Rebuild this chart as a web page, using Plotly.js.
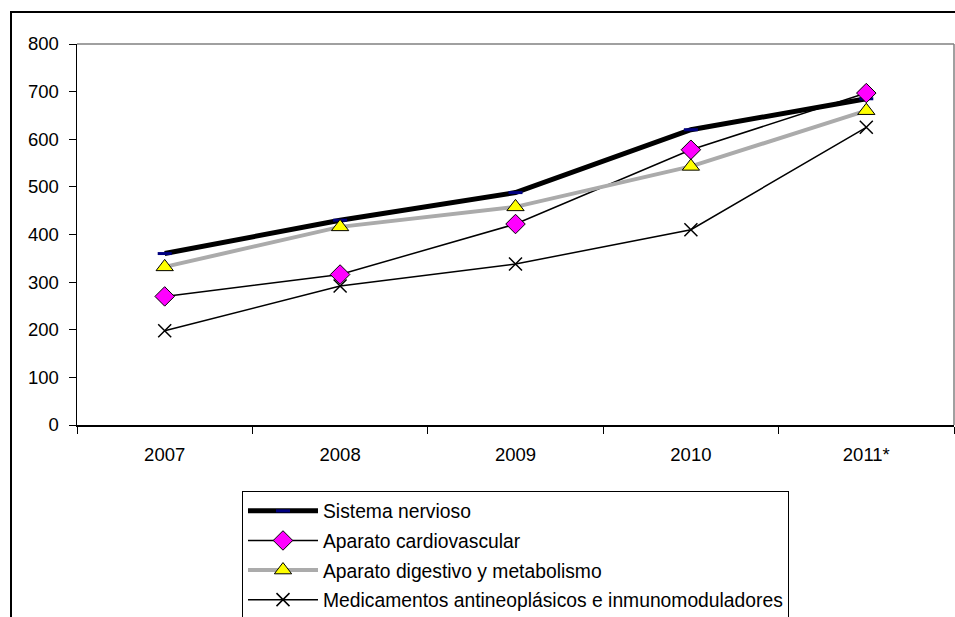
<!DOCTYPE html>
<html>
<head>
<meta charset="utf-8">
<script src="https://cdn.plot.ly/plotly-3.0.1.min.js"></script>
<style>
html,body{margin:0;padding:0;background:#fff;overflow:hidden;}
#wrap{position:relative;width:955px;height:617px;}
#chart{position:absolute;left:0;top:0;width:955px;height:617px;}
#frame{position:absolute;left:10px;top:11px;width:2000px;height:2000px;border-left:2px solid #000;border-top:2px solid #000;pointer-events:none;z-index:5;}
</style>
</head>
<body>
<div id="wrap"><div id="chart"></div><div id="frame"></div></div>
<script>
var years = ["2007", "2008", "2009", "2010", "2011*"];
var sistemaNervioso = [360, 430, 488, 620, 685];
var aparatoCardiovascular = [270, 316, 422, 578, 697];
var aparatoDigestivo = [332, 416, 458, 543, 660];
var medicamentosAntineoplasicos = [198, 292, 338, 410, 625];
var seriesNames = [
  "Sistema nervioso",
  "Aparato cardiovascular",
  "Aparato digestivo y metabolismo",
  "Medicamentos antineoplásicos e inmunomoduladores"
];
var yTicks = [0, 100, 200, 300, 400, 500, 600, 700, 800];

var FONT = "Liberation Sans, Arial, sans-serif";

var traces = [
  {
    x: years, y: sistemaNervioso, name: seriesNames[0], type: "scatter", mode: "lines+markers",
    legendgroup: "a",
    line: {color: "#000000", width: 5},
    marker: {symbol: "line-ew-open", size: 10, color: "#000080", line: {color: "#000080", width: 3}}
  },
  {
    x: years, y: aparatoCardiovascular, name: seriesNames[1], type: "scatter", mode: "lines+markers",
    legendgroup: "b",
    line: {color: "#000000", width: 1.5},
    marker: {symbol: "diamond", size: 15, color: "#FF00FF", line: {color: "#000000", width: 1}}
  },
  {
    x: years, y: aparatoDigestivo, name: seriesNames[2], type: "scatter", mode: "lines+markers",
    legendgroup: "c",
    line: {color: "#ababab", width: 4},
    marker: {symbol: "triangle-up", size: 15, color: "#FFFF00", line: {color: "#000000", width: 1}}
  },
  {
    x: years, y: medicamentosAntineoplasicos, name: seriesNames[3], type: "scatter", mode: "lines+markers",
    legendgroup: "d",
    line: {color: "#000000", width: 1.5},
    marker: {symbol: "x-thin-open", size: 13, color: "#000000", line: {color: "#000000", width: 1.5}}
  }
];

var layout = {
  width: 955, height: 617,
  margin: {l: 77, r: 1, t: 44, b: 192, pad: 0, autoexpand: false},
  paper_bgcolor: "#ffffff", plot_bgcolor: "#ffffff",
  font: {family: FONT, size: 19, color: "#000000"},
  showlegend: true,
  legend: {
    xref: "container", yref: "container",
    x: 0.2534, y: 0.2045, xanchor: "left", yanchor: "top",
    bordercolor: "#000000", borderwidth: 1, bgcolor: "#ffffff",
    font: {family: FONT, size: 19.3, color: "#000000"},
    traceorder: "grouped", tracegroupgap: 1.5, itemwidth: 70
  },
  xaxis: {
    type: "category", categoryarray: years, range: [-0.5, 4.5],
    showline: true, linecolor: "#000000", linewidth: 1.5,
    ticks: "outside", tickson: "boundaries", ticklen: 7, tickcolor: "#000000", tickwidth: 1,
    showgrid: false, zeroline: false, ticklabelstandoff: 12,
    tickfont: {family: FONT, size: 18.5, color: "#000000"}
  },
  yaxis: {
    range: [0, 800], tickvals: yTicks, ticktext: yTicks.map(String),
    showline: true, linecolor: "#000000", linewidth: 1.5,
    ticks: "outside", ticklen: 7, tickcolor: "#000000", tickwidth: 1,
    showgrid: false, zeroline: false, ticklabelstandoff: 6,
    tickfont: {family: FONT, size: 18.5, color: "#000000"}
  },
  shapes: [
    {type: "line", xref: "paper", yref: "paper", x0: 0, x1: 1, y0: 1, y1: 1, line: {color: "#808080", width: 1.5}},
    {type: "line", xref: "paper", yref: "paper", x0: 1, x1: 1, y0: 0, y1: 1, line: {color: "#808080", width: 1.5}}
  ]
};

Plotly.newPlot("chart", traces, layout, {displayModeBar: false, staticPlot: true});
</script>
</body>
</html>
